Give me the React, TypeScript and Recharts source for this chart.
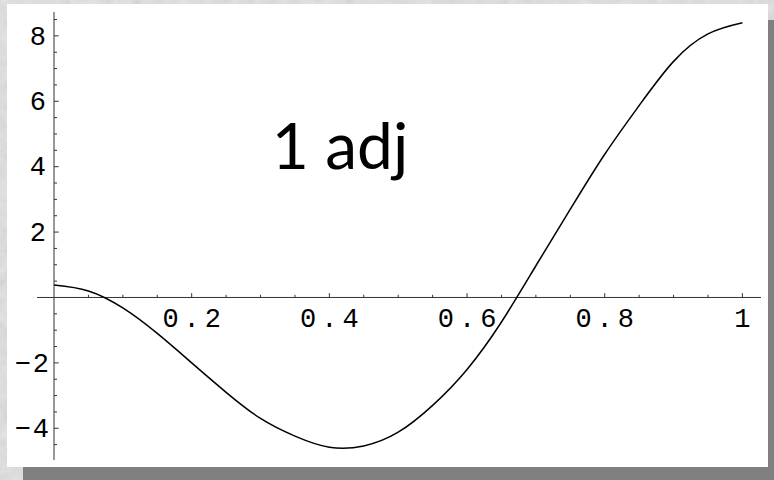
import { LineChart, Line, XAxis, YAxis, ReferenceLine, ReferenceDot } from 'recharts';

const xValues = [0, 0.05, 0.1, 0.15, 0.2, 0.25, 0.3, 0.35, 0.4, 0.45, 0.5, 0.55, 0.6, 0.65, 0.7, 0.75, 0.8, 0.85, 0.9, 0.95, 1];
const yValues = [0.38, 0.2, -0.32, -1.1, -2.0, -2.9, -3.7, -4.24, -4.58, -4.54, -4.12, -3.3, -2.2, -0.75, 0.97, 2.7, 4.38, 5.87, 7.22, 8.06, 8.4];

const xMajorTicks = [0.2, 0.4, 0.6, 0.8, 1];
const xTickLabels = ['0.2', '0.4', '0.6', '0.8', '1'];
const xMinorTicks = [0.05, 0.1, 0.15, 0.25, 0.3, 0.35, 0.45, 0.5, 0.55, 0.65, 0.7, 0.75, 0.85, 0.9, 0.95];

const yMajorTicks = [-4, -2, 2, 4, 6, 8];
const yTickLabels = ['\u22124', '\u22122', '2', '4', '6', '8'];
const yMinorTicks = [-4.5, -3.5, -3, -2.5, -1.5, -1, -0.5, 0.5, 1, 1.5, 2.5, 3, 3.5, 4.5, 5, 5.5, 6.5, 7, 7.5, 8.5];

const title = '1 adj';

const curve = xValues.map((x, i) => ({ x, y: yValues[i] }));

const AXIS = '#333';
const TICK_FONT = {
  fontFamily: '"Liberation Mono", "Courier New", monospace',
  fontSize: 27,
  letterSpacing: 5,
  fill: '#000',
};

// tick marks point into the plot: up from the x axis, right from the y axis
const xTick = (len: number, label?: string) => (p: any) => (
  <g>
    <line x1={p.cx} x2={p.cx} y1={p.cy} y2={p.cy - len} stroke={AXIS} strokeWidth={1} />
    {label && (
      <text x={p.cx + 2.5} y={p.cy + 30} textAnchor="middle" {...TICK_FONT}>
        {label}
      </text>
    )}
  </g>
);

const yTick = (len: number, label?: string) => (p: any) => (
  <g>
    <line x1={p.cx} x2={p.cx + len} y1={p.cy} y2={p.cy} stroke={AXIS} strokeWidth={1} />
    {label && (
      <text x={p.cx - 8 + 5} y={p.cy + 8.8} textAnchor="end" {...TICK_FONT} letterSpacing={label.length > 1 ? 2 : 5}>
        {label}
      </text>
    )}
  </g>
);

export default function App() {
  return (
    <div style={{ position: 'absolute', left: 0, top: 0, width: 774, height: 480, overflow: 'hidden' }}>
      <svg width={774} height={480} style={{ position: 'absolute', left: 0, top: 0 }}>
        <defs>
          <filter id="grain" x="0" y="0" width="100%" height="100%">
            <feTurbulence type="fractalNoise" baseFrequency="0.09" numOctaves={3} seed={7} />
            <feColorMatrix type="matrix" values="0.33 0.33 0.33 0 0  0.33 0.33 0.33 0 0  0.33 0.33 0.33 0 0  0 0 0 0 1" />
          </filter>
        </defs>
        <rect width={774} height={480} fill="#e6e6e6" />
        <rect width={774} height={480} filter="url(#grain)" opacity={0.22} />
        <rect x={23} y={20} width={761} height={470} fill="#808080" />
        <rect x={7} y={4} width={761} height={463} fill="#fff" />
      </svg>
      <div style={{ position: 'absolute', left: 0, top: 0 }}>
        <LineChart width={774} height={480} data={curve} margin={{ top: 12, right: 13, bottom: 20, left: 37 }}>
          <XAxis type="number" dataKey="x" domain={[-0.0247, 1.027]} hide allowDataOverflow />
          <YAxis type="number" domain={[-4.97, 8.73]} hide allowDataOverflow />
          <ReferenceLine y={0} stroke={AXIS} strokeWidth={1} />
          <ReferenceLine x={0} stroke={AXIS} strokeWidth={1} />
          {xMinorTicks.map((t) => (
            <ReferenceDot key={`xm${t}`} x={t} y={0} r={1} shape={xTick(2.7)} />
          ))}
          {xMajorTicks.map((t, i) => (
            <ReferenceDot key={`xM${t}`} x={t} y={0} r={1} shape={xTick(4.3, xTickLabels[i])} />
          ))}
          {yMinorTicks.map((t) => (
            <ReferenceDot key={`ym${t}`} x={0} y={t} r={1} shape={yTick(3)} />
          ))}
          {yMajorTicks.map((t, i) => (
            <ReferenceDot key={`yM${t}`} x={0} y={t} r={1} shape={yTick(4.7, yTickLabels[i])} />
          ))}
          <Line
            type="natural"
            dataKey="y"
            stroke="#000"
            strokeWidth={1.5}
            dot={false}
            isAnimationActive={false}
          />
        </LineChart>
      </div>
      <svg width={774} height={480} style={{ position: 'absolute', left: 0, top: 0, pointerEvents: 'none' }}>
        <text x={340} y={169} textAnchor="middle" fontFamily="Lato, sans-serif" fontSize={64} fill="#000">
          {title}
        </text>
      </svg>
    </div>
  );
}
